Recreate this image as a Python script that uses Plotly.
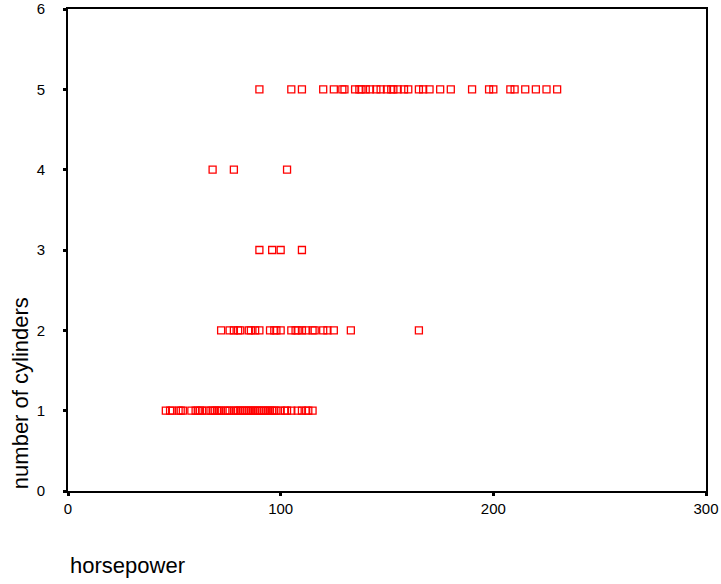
import plotly.graph_objects as go

# Horsepower values per cylinder code
hp_code1 = [46, 48, 49, 52, 53, 54, 58, 60, 61, 62, 63, 65, 67, 68, 69, 70, 71, 72, 74, 75,
            76, 78, 79, 80, 81, 82, 83, 84, 85, 86, 87, 88, 89, 90, 91, 92, 93, 94, 95, 96,
            97, 98, 100, 102, 103, 105, 108, 110, 112, 113, 115]
hp_code2 = [72, 76, 78, 80, 81, 85, 86, 88, 90, 95, 97, 98, 100, 105, 107, 108, 110, 112,
            115, 116, 120, 122, 125, 133, 165]
hp_code3 = [90, 96, 100, 110]
hp_code4 = [68, 78, 103]
hp_code5 = [90, 105, 110, 120, 125, 129, 130, 135, 137, 138, 140, 142, 145, 147, 150, 152,
            153, 155, 158, 160, 165, 167, 170, 175, 180, 190, 198, 200, 208, 210, 215, 220,
            225, 230]

codes = [1, 2, 3, 4, 5]
hp_lists = [hp_code1, hp_code2, hp_code3, hp_code4, hp_code5]

x_ticks = [0, 100, 200, 300]
y_ticks = [0, 1, 2, 3, 4, 5, 6]

xs, ys = [], []
for c, lst in zip(codes, hp_lists):
    xs += lst
    ys += [c] * len(lst)

fig = go.Figure()
fig.add_trace(go.Scatter(
    x=xs, y=ys, mode="markers",
    marker=dict(symbol="square-open", size=7, color="#ff0000", line=dict(width=1.3, color="#ff0000")),
    showlegend=False, cliponaxis=False, hoverinfo="skip",
))

font_family = "Liberation Sans, Arial, sans-serif"
fig.update_layout(
    width=721, height=584,
    margin=dict(l=68, r=15, t=9, b=93, autoexpand=False),
    paper_bgcolor="white", plot_bgcolor="white",
    font=dict(family=font_family, size=15, color="black"),
    xaxis=dict(range=[0, 300], tickvals=x_ticks, showgrid=False, zeroline=False,
               showline=True, linecolor="black", linewidth=2, mirror=True,
               ticks="outside", ticklen=3, tickwidth=3, tickcolor="black",
               ticklabelstandoff=0, automargin=False),
    yaxis=dict(range=[0, 6], tickvals=y_ticks, showgrid=False, zeroline=False,
               showline=True, linecolor="black", linewidth=2, mirror=True,
               ticks="outside", ticklen=3, tickwidth=3, tickcolor="black",
               ticklabelstandoff=15, automargin=False),
    annotations=[
        dict(text="horsepower", x=0, y=-0.125, xref="paper", yref="paper",
             xanchor="left", yanchor="top", showarrow=False,
             font=dict(size=22, family=font_family)),
        dict(text="number of cylinders", x=-0.075, y=0, xref="paper", yref="paper",
             xanchor="center", yanchor="bottom", textangle=-90, showarrow=False,
             font=dict(size=22, family=font_family)),
    ],
)

# Remove the default page margin so the figure fills the window exactly.
fig.write_html("out.html", config={"displayModeBar": False},
               post_script="document.body.style.margin='0';document.body.style.overflow='hidden';")
